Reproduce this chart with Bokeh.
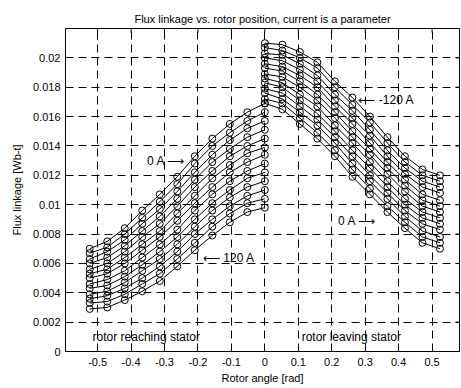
import math
from bokeh.plotting import figure
from bokeh.embed import file_html
from bokeh.resources import INLINE
from bokeh.models import FixedTicker, CustomJSTickFormatter, Range1d, Label
from bokeh.core.properties import value

FONT = "Liberation Sans"

# rotor angle [rad], 3 degree steps
angle_left = [-0.5236, -0.4712, -0.4189, -0.3665, -0.3142, -0.2618, -0.2094, -0.1571, -0.1047, -0.0524, 0.0]
angle_right = [0.0, 0.0524, 0.1047, 0.1571, 0.2094, 0.2618, 0.3142, 0.3665, 0.4189, 0.4712, 0.5236]

# rotor reaching stator: 0 A (top) ... 120 A (bottom)
reach_0A = [0.0070, 0.0075, 0.0084, 0.0096, 0.0107, 0.0119, 0.0133, 0.0145, 0.0155, 0.0163, 0.0169]
reach_10A = [0.0067, 0.0071, 0.0080, 0.0091, 0.0102, 0.0114, 0.0128, 0.0140, 0.0149, 0.0157, 0.0163]
reach_20A = [0.0063, 0.0068, 0.0076, 0.0087, 0.0097, 0.0109, 0.0122, 0.0134, 0.0144, 0.0152, 0.0157]
reach_30A = [0.0060, 0.0064, 0.0072, 0.0082, 0.0092, 0.0104, 0.0117, 0.0129, 0.0138, 0.0146, 0.0151]
reach_40A = [0.0056, 0.0060, 0.0068, 0.0078, 0.0087, 0.0099, 0.0112, 0.0123, 0.0133, 0.0140, 0.0145]
reach_50A = [0.0053, 0.0056, 0.0064, 0.0073, 0.0082, 0.0094, 0.0106, 0.0118, 0.0127, 0.0135, 0.0139]
reach_60A = [0.0050, 0.0053, 0.0060, 0.0069, 0.0078, 0.0089, 0.0101, 0.0112, 0.0122, 0.0129, 0.0134]
reach_70A = [0.0046, 0.0049, 0.0055, 0.0064, 0.0073, 0.0083, 0.0096, 0.0107, 0.0116, 0.0123, 0.0128]
reach_80A = [0.0043, 0.0045, 0.0051, 0.0059, 0.0068, 0.0078, 0.0090, 0.0101, 0.0110, 0.0118, 0.0122]
reach_90A = [0.0039, 0.0041, 0.0047, 0.0055, 0.0063, 0.0073, 0.0085, 0.0096, 0.0105, 0.0112, 0.0116]
reach_100A = [0.0036, 0.0038, 0.0043, 0.0050, 0.0058, 0.0068, 0.0080, 0.0090, 0.0099, 0.0106, 0.0110]
reach_110A = [0.0033, 0.0034, 0.0039, 0.0046, 0.0053, 0.0063, 0.0074, 0.0085, 0.0094, 0.0101, 0.0104]
reach_120A = [0.0029, 0.0030, 0.0035, 0.0041, 0.0048, 0.0058, 0.0069, 0.0079, 0.0088, 0.0095, 0.0098]

# rotor leaving stator: -120 A (top) ... 0 A (bottom)
leave_m120A = [0.0210, 0.0209, 0.0204, 0.0197, 0.0184, 0.0173, 0.0160, 0.0146, 0.0133, 0.0124, 0.0120]
leave_m110A = [0.0207, 0.0205, 0.0200, 0.0193, 0.0180, 0.0168, 0.0156, 0.0142, 0.0129, 0.0120, 0.0116]
leave_m100A = [0.0203, 0.0202, 0.0196, 0.0188, 0.0175, 0.0164, 0.0151, 0.0137, 0.0125, 0.0116, 0.0112]
leave_m90A = [0.0200, 0.0198, 0.0192, 0.0184, 0.0171, 0.0159, 0.0147, 0.0133, 0.0121, 0.0112, 0.0108]
leave_m80A = [0.0196, 0.0194, 0.0188, 0.0180, 0.0167, 0.0155, 0.0142, 0.0129, 0.0117, 0.0107, 0.0103]
leave_m70A = [0.0193, 0.0191, 0.0184, 0.0175, 0.0163, 0.0150, 0.0138, 0.0125, 0.0113, 0.0103, 0.0099]
leave_m60A = [0.0189, 0.0187, 0.0180, 0.0171, 0.0159, 0.0146, 0.0134, 0.0121, 0.0109, 0.0099, 0.0095]
leave_m50A = [0.0186, 0.0183, 0.0175, 0.0167, 0.0154, 0.0142, 0.0129, 0.0116, 0.0104, 0.0095, 0.0091]
leave_m40A = [0.0183, 0.0180, 0.0171, 0.0162, 0.0150, 0.0137, 0.0125, 0.0112, 0.0100, 0.0091, 0.0087]
leave_m30A = [0.0179, 0.0176, 0.0167, 0.0158, 0.0146, 0.0133, 0.0120, 0.0108, 0.0096, 0.0087, 0.0083]
leave_m20A = [0.0176, 0.0172, 0.0163, 0.0154, 0.0142, 0.0128, 0.0116, 0.0104, 0.0092, 0.0082, 0.0078]
leave_m10A = [0.0172, 0.0169, 0.0159, 0.0149, 0.0137, 0.0124, 0.0111, 0.0099, 0.0088, 0.0078, 0.0074]
leave_0A = [0.0169, 0.0165, 0.0155, 0.0145, 0.0133, 0.0119, 0.0107, 0.0095, 0.0084, 0.0074, 0.0070]

reach_curves = [reach_0A, reach_10A, reach_20A, reach_30A, reach_40A, reach_50A, reach_60A,
                reach_70A, reach_80A, reach_90A, reach_100A, reach_110A, reach_120A]
leave_curves = [leave_m120A, leave_m110A, leave_m100A, leave_m90A, leave_m80A, leave_m70A, leave_m60A,
                leave_m50A, leave_m40A, leave_m30A, leave_m20A, leave_m10A, leave_0A]

x_ticks = [-0.5, -0.4, -0.3, -0.2, -0.1, 0, 0.1, 0.2, 0.3, 0.4, 0.5]
y_ticks = [0, 0.002, 0.004, 0.006, 0.008, 0.01, 0.012, 0.014, 0.016, 0.018, 0.02]

X_MIN, X_MAX = -0.596, 0.582
Y_MIN, Y_MAX = 0.0, 0.022

notes = [
    ("0 A \u27f6", -0.352, 0.0130),
    ("\u27f5 120 A", -0.185, 0.0064),
    ("\u27f5 -120 A", 0.280, 0.0171),
    ("0 A \u27f6", 0.219, 0.0089),
    ("rotor reaching stator", -0.515, 0.0010),
    ("rotor leaving stator", 0.110, 0.0010),
]

p = figure(width=461, height=388, output_backend="svg", toolbar_location=None,
           x_range=Range1d(X_MIN, X_MAX), y_range=Range1d(Y_MIN, Y_MAX),
           min_border_left=65, min_border_right=2, min_border_top=28, min_border_bottom=37)

p.title.text = "Flux linkage vs. rotor position, current is a parameter"
p.title.align = "center"
p.title.text_font = FONT
p.title.text_font_size = "11px"
p.title.text_font_style = "normal"
p.title.text_color = "black"
p.title.offset = 0
p.title.standoff = 8

fmt = CustomJSTickFormatter(code="return String(Number(tick.toFixed(4)));")

for ax in p.xaxis:
    ax.ticker = FixedTicker(ticks=x_ticks)
for ax in p.yaxis:
    ax.ticker = FixedTicker(ticks=y_ticks)

for ax in list(p.xaxis) + list(p.yaxis):
    ax.formatter = fmt
    ax.major_tick_in = 4
    ax.major_tick_out = 0
    ax.minor_tick_line_color = None
    ax.major_tick_line_color = "black"
    ax.axis_line_color = "black"
    ax.major_label_text_font = FONT
    ax.major_label_text_font_size = "11px"
    ax.major_label_text_color = "black"
    ax.axis_label_text_font = FONT
    ax.axis_label_text_font_size = "11px"
    ax.axis_label_text_font_style = "normal"
    ax.axis_label_text_color = "black"

p.xaxis.axis_label = "Rotor angle [rad]"
p.yaxis.axis_label = "Flux linkage [Wb-t]"
p.xaxis.major_label_standoff = 6
p.xaxis.axis_label_standoff = 3
p.yaxis.major_label_standoff = 5
p.yaxis.axis_label_standoff = 7

p.xgrid.ticker = FixedTicker(ticks=x_ticks)
p.ygrid.ticker = FixedTicker(ticks=y_ticks)
p.grid.grid_line_color = "black"
p.grid.grid_line_dash = "8 5"
p.grid.grid_line_width = 1
p.grid.grid_line_alpha = 1.0

p.outline_line_color = "black"
p.outline_line_width = 1
p.background_fill_color = "white"
p.border_fill_color = "white"

# inward tick marks on the top and right edges of the box (MATLAB style)
p.scatter(x_ticks, [Y_MAX] * len(x_ticks), marker="dash", size=8, angle=math.pi / 2,
          line_color="black", line_width=1)
p.scatter([X_MAX] * len(y_ticks), y_ticks, marker="dash", size=8,
          line_color="black", line_width=1)

for ys in reach_curves:
    p.line(angle_left, ys, line_color="black", line_width=1)
    p.scatter(angle_left, ys, marker="circle", size=7, fill_color=None, line_color="black", line_width=1)
for ys in leave_curves:
    p.line(angle_right, ys, line_color="black", line_width=1)
    p.scatter(angle_right, ys, marker="circle", size=7, fill_color=None, line_color="black", line_width=1)

for txt, x, y in notes:
    p.add_layout(Label(x=x, y=y, text=txt, text_font=FONT, text_font_size="12px",
                       text_color="black", text_baseline="middle", text_align="left"))

open("out.html", "w").write(file_html(p, INLINE))
